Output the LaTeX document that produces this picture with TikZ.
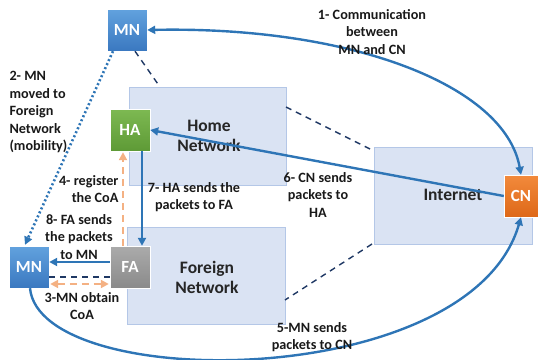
\documentclass[tikz,border=0pt]{standalone}
\usepackage{fontspec}
\setmainfont{Carlito}
\usetikzlibrary{arrows.meta}
\definecolor{netfill}{HTML}{DAE3F3}
\definecolor{netdraw}{HTML}{B4C7E7}
\definecolor{conblue}{HTML}{2E75B6}
\definecolor{navy}{HTML}{1F3864}
\definecolor{orng}{HTML}{F4B183}
\definecolor{mntop}{HTML}{62A2DE}
\definecolor{mnbot}{HTML}{3A78C0}
\definecolor{hatop}{HTML}{7DB952}
\definecolor{habot}{HTML}{5E9A36}
\definecolor{fatop}{HTML}{ABABAB}
\definecolor{fabot}{HTML}{8A8A8A}
\definecolor{cntop}{HTML}{F28A3C}
\definecolor{cnbot}{HTML}{DE6818}
\tikzset{
  tri/.tip={Triangle[length=8pt,width=8pt]},
  net/.style={fill=netfill,draw=netdraw,line width=0.6pt,inner sep=0pt,anchor=north west},
  agent/.style={minimum width=40pt,minimum height=42pt,inner sep=0pt,text=white,font=\bfseries\fontsize{17}{17}\selectfont,draw=white,line width=0.4pt},
  lbl/.style={font=\bfseries\fontsize{14.2}{17.5}\selectfont,align=center,text=black!90},
  netlbl/.style={font=\bfseries\fontsize{17.5}{20}\selectfont,align=center,text=black!85},
  blu/.style={draw=conblue,line width=2.4pt},
  dnavy/.style={draw=navy,line width=1.4pt,dash pattern=on 6pt off 5pt},
  dorng/.style={draw=orng,line width=2.4pt,dash pattern=on 7pt off 5pt},
}
\begin{document}
\begin{tikzpicture}[x=1pt,y=-1pt]
\useasboundingbox (0,0) rectangle (540,359);
% networks
\node[net,minimum width=157pt,minimum height=98pt] (home) at (129,87) {};
\node[net,minimum width=158pt,minimum height=97pt] (foreign) at (127,227) {};
\node[net,minimum width=158pt,minimum height=97pt] (inet) at (374,147) {};
\node[netlbl] (homel) at (209,136) {Home\\Network};
\node[netlbl] (forl) at (207,277) {Foreign\\Network};
\node[netlbl] (inetl) at (453,195) {Internet};
% agents
\node[agent,top color=mntop,bottom color=mnbot] (mn1) at (127,30) {MN};
\node[agent,top color=hatop,bottom color=habot] (ha) at (130,130) {HA};
\node[agent,top color=fatop,bottom color=fabot] (fa) at (130,267) {FA};
\node[agent,top color=mntop,bottom color=mnbot] (mn2) at (29,267) {MN};
\node[agent,top color=cntop,bottom color=cnbot,minimum width=34pt] (cn) at (521,196) {CN};
% coordinates
\coordinate (hnTL) at (160,87);
\coordinate (hnR) at (286,107);
\coordinate (inTL) at (372,150);
\coordinate (inBL) at (372,244);
\coordinate (fnR) at (285,300);
% dashed navy links
\draw[dnavy] ([xshift=8pt]mn1.south) -- (hnTL);
\draw[dnavy] (hnR) -- (inTL);
\draw[dnavy] (inBL) -- (fnR);
\draw[dnavy] ([yshift=-10pt]mn2.east) -- ([yshift=-10pt]fa.west);
% orange dashed
\draw[dorng,-tri] ([xshift=-7pt]fa.north) -- ([xshift=-7pt,yshift=-1pt]ha.south);
\draw[dorng,tri-tri] ([yshift=-17pt,xshift=1pt]mn2.east) -- ([yshift=-17pt,xshift=-1pt]fa.west);
% dotted mobility
\draw[conblue,line width=2.6pt,dash pattern=on 2pt off 2.4pt,-tri] ([xshift=-14pt]mn1.south) -- ([xshift=-4pt,yshift=1pt]mn2.north);
% solid blue
\draw[blu,tri-tri] (cn.north) .. controls (505,85) and (350,26) .. (mn1.east);
\draw[blu,-tri] (cn.west) -- (ha.east);
\draw[blu,-tri] ([xshift=12pt]ha.south) -- ([xshift=12pt]fa.north);
\draw[blu,-tri] ([yshift=5pt]fa.west) -- ([yshift=5pt]mn2.east);
\draw[blu,-tri] ([xshift=1pt]mn2.south) .. controls (40,393) and (470,393) .. (cn.south);
% labels
\node[lbl] (l1) at (372,32) {1- Communication\\between\\MN and CN};
\node[lbl,align=left,anchor=west] (l2) at (6,112) {2- MN\\moved to\\Foreign\\Network\\(mobility)};
\node[lbl] (l6) at (318,195) {6- CN sends\\packets to\\HA};
\node[lbl] (l7) at (194,197) {7- HA sends the\\packets to FA};
\node[lbl,align=right,anchor=east] (l4) at (122,189) {4- register\\the CoA};
\node[lbl] (l8) at (79,237) {8- FA sends\\the packets\\to MN};
\node[lbl] (l3) at (82,306) {3-MN obtain\\CoA};
\node[lbl] (l5) at (312,337) {5-MN sends\\packets to CN};
\end{tikzpicture}
\end{document}
